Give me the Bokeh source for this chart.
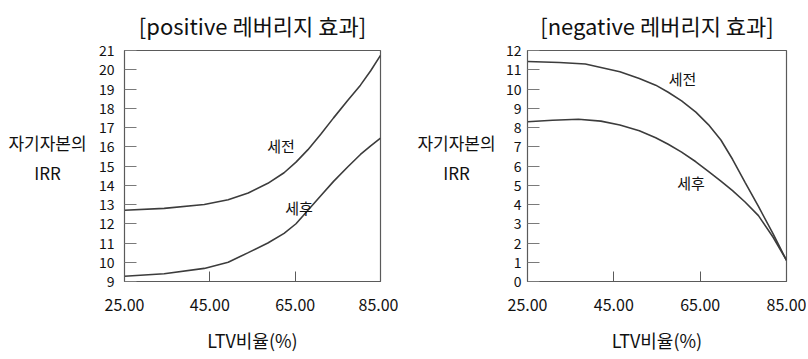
from bokeh.plotting import figure
from bokeh.layouts import row
from bokeh.models import FixedTicker, NumeralTickFormatter, Range1d, Label
from bokeh.core.properties import value
from bokeh.embed import file_html
from bokeh.resources import INLINE

FONT = "Noto Sans CJK KR"

# Left chart: positive leverage (LTV %, IRR %)
pos_x_pre = [25, 34.3, 43.7, 49.3, 54.0, 58.6, 62.4, 65.2, 68.0, 71.0, 74.0, 77.3, 80.3, 82.7, 85]
pos_y_pre = [12.7, 12.8, 13.0, 13.25, 13.6, 14.1, 14.65, 15.2, 15.85, 16.65, 17.5, 18.4, 19.2, 19.95, 20.75]
pos_x_post = [25, 34.3, 43.7, 49.3, 54.0, 58.6, 62.4, 65.2, 68.0, 71.0, 74.0, 77.3, 80.3, 82.7, 85]
pos_y_post = [9.27, 9.4, 9.68, 10.0, 10.5, 11.0, 11.5, 12.0, 12.7, 13.45, 14.2, 14.95, 15.6, 16.05, 16.45]

# Right chart: negative leverage
neg_x_pre = [25, 32.4, 38.4, 46.4, 50.9, 54.7, 57.6, 60.7, 64.0, 66.9, 69.8, 72.5, 75.4, 78.5, 81.9, 85]
neg_y_pre = [11.43, 11.38, 11.3, 10.9, 10.55, 10.2, 9.83, 9.38, 8.8, 8.15, 7.35, 6.35, 5.15, 3.9, 2.47, 1.1]
neg_x_post = [25, 30.8, 36.8, 42.0, 46.4, 50.9, 54.7, 57.6, 60.7, 64.0, 66.9, 69.8, 72.5, 75.4, 78.5, 81.9, 85]
neg_y_post = [8.3, 8.38, 8.43, 8.33, 8.13, 7.83, 7.47, 7.13, 6.72, 6.22, 5.72, 5.22, 4.72, 4.13, 3.42, 2.3, 1.1]

x_ticks = [25, 45, 65, 85]
pos_y_ticks = list(range(9, 22))
neg_y_ticks = list(range(0, 13))

pos_labels = {"세전": (61.7, 16.05), "세후": (65.9, 12.85)}
neg_labels = {"세전": (60.9, 10.55), "세후": (62.9, 5.15)}

y_title = "자기자본의\nIRR"

LINE = "#3c3c3c"
FRAME = "#5a5a5a"
TXT = "#111111"
H = 355


def ylabel_fig(width, cx):
    q = figure(width=width, height=H, output_backend="svg", toolbar_location=None,
               x_range=Range1d(0, width), y_range=Range1d(0, H),
               x_axis_location=None, y_axis_location=None, min_border=0)
    q.xgrid.visible = False
    q.ygrid.visible = False
    q.outline_line_color = None
    # frame of this figure is aligned with the chart frames in the row
    q.add_layout(Label(x=cx, y=124, x_units="screen", y_units="screen",
                       text=y_title, text_font=FONT, text_font_size="17px",
                       text_color=TXT, text_align="center", text_baseline="middle"))
    return q


def make(title, xs1, ys1, xs2, ys2, yticks, ymin, ymax, labels, width, bl, br, ystand):
    p = figure(width=width, height=H, output_backend="svg", toolbar_location=None,
               x_range=Range1d(25, 85), y_range=Range1d(ymin, ymax),
               min_border_left=bl, min_border_right=br, min_border_top=47, min_border_bottom=68)
    p.title.text = title
    p.title.align = "center"
    p.title.vertical_align = "top"
    p.title.text_font = FONT
    p.title.text_font_size = "22px"
    p.title.text_font_style = "normal"
    p.title.text_color = TXT
    p.title.offset = 0
    p.title.standoff = 16
    p.xgrid.visible = False
    p.ygrid.visible = False
    p.outline_line_color = FRAME
    p.outline_line_width = 1.2
    p.background_fill_color = "white"
    p.border_fill_color = "white"

    xa = p.xaxis[0]
    xa.ticker = FixedTicker(ticks=x_ticks)
    xa.formatter = NumeralTickFormatter(format="0.00")
    xa.major_tick_in = 10
    xa.major_tick_out = 0
    xa.minor_tick_line_color = None
    xa.axis_line_color = FRAME
    xa.major_tick_line_color = FRAME
    xa.major_label_text_font = FONT
    xa.major_label_text_font_size = "16px"
    xa.major_label_text_color = TXT
    xa.major_label_standoff = 17
    xa.axis_label = "LTV비율(%)"
    xa.axis_label_text_font = FONT
    xa.axis_label_text_font_size = "18px"
    xa.axis_label_text_font_style = "normal"
    xa.axis_label_text_color = TXT
    xa.axis_label_standoff = 13

    ya = p.yaxis[0]
    ya.ticker = FixedTicker(ticks=yticks)
    ya.major_tick_in = 12
    ya.major_tick_out = 0
    ya.minor_tick_line_color = None
    ya.axis_line_color = FRAME
    ya.major_tick_line_color = "#7a7a7a"
    ya.major_label_text_font = FONT
    ya.major_label_text_font_size = "14px"
    ya.major_label_text_color = TXT
    ya.major_label_standoff = ystand

    p.line(xs1, ys1, line_color=LINE, line_width=1.6)
    p.line(xs2, ys2, line_color=LINE, line_width=1.6)

    names = list(labels.keys())
    p.text(x=[labels[n][0] for n in names], y=[labels[n][1] for n in names], text=names,
           text_font=value(FONT), text_font_size="15px", text_color=TXT,
           text_align="center", text_baseline="middle")
    return p


lab_left = ylabel_fig(95, 47)
left = make("[positive 레버리지 효과]", pos_x_pre, pos_y_pre, pos_x_post, pos_y_post,
            pos_y_ticks, 9, 21, pos_labels, 303, 28, 18, 10)
lab_right = ylabel_fig(104, 58)
right = make("[negative 레버리지 효과]", neg_x_pre, neg_y_pre, neg_x_post, neg_y_post,
             neg_y_ticks, 0, 12, neg_labels, 304, 20, 20, 6)

layout = row(lab_left, left, lab_right, right)
open("out.html", "w").write(file_html(layout, INLINE))
